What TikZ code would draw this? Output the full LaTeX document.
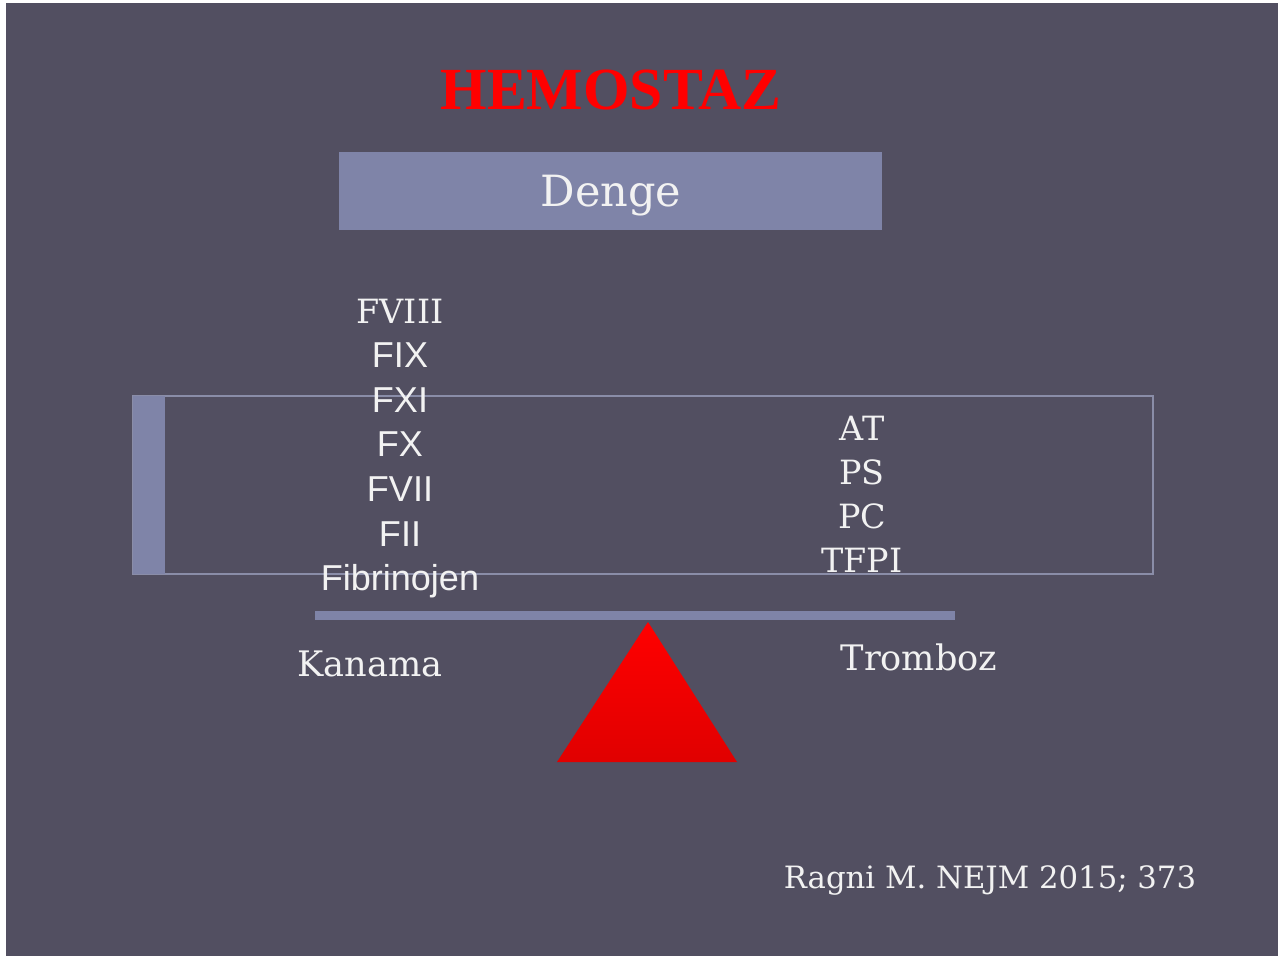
\documentclass[tikz,border=0pt]{standalone}
\usepackage{fontspec}
\setmainfont{DejaVu Serif}
\newfontfamily\titlefont{Liberation Serif}
\newfontfamily\armfont{Liberation Sans}
\usetikzlibrary{positioning}
\definecolor{slide}{HTML}{524F61}
\definecolor{bar}{HTML}{7F84A8}
\definecolor{frame}{HTML}{8A8DA8}
\definecolor{ink}{HTML}{F2F2F2}
\tikzset{
    x=0.02cm,
    y=-0.02cm,
    title/.style = {
        anchor=base,
        inner sep=0pt,
        text=red,
        font=\titlefont\bfseries\fontsize{34}{34}\selectfont
    },
    serif/.style = {
        anchor=base,
        inner sep=0pt,
        text=ink,
        font=\fontsize{19}{19}\selectfont
    },
    sans/.style = {
        anchor=base,
        inner sep=0pt,
        text=ink,
        font=\armfont\fontsize{20.5}{20.5}\selectfont
    },
}

\begin{document}
\begin{tikzpicture}
            \useasboundingbox (0,0) rectangle (1278,956);
            \fill[white] (0,0) rectangle (1278,956);
            \fill[slide] (6,3) rectangle (1278,956);

            \node[title] (hemostaz) at (611,110) {HEMOSTAZ};

            \fill[bar] (339,152) rectangle (882,230);
            \node[serif, font=\fontsize{24.5}{24.5}\selectfont] (denge) at (611,207) {Denge};

            \draw[frame, line width=0.9pt] (133,396) rectangle (1153,574);
            \fill[bar] (133,396) rectangle (165,574);

            \node[serif] (f8) at (400,323) {FVIII};
            \foreach \lbl [count=\i] in {FIX,FXI,FX,FVII,FII,Fibrinojen}
                \node[sans] (left\i) at (400,323+44.6*\i) {\lbl};

            \foreach \lbl [count=\i] in {AT,PS,PC,TFPI}
                \node[serif] (right\i) at (862,396+44*\i) {\lbl};

            \fill[bar] (315,611) rectangle (955,620);
            \coordinate (apex) at (648,622);
            \shade[top color=red, bottom color=red!88!black]
                (apex) -- (737,762) -- (557,762) -- cycle;

            \node[serif, font=\fontsize{20}{20}\selectfont] (kanama) at (370,676) {Kanama};
            \node[serif, font=\fontsize{20}{20}\selectfont] (tromboz) at (919,670) {Tromboz};

            \node[serif, font=\fontsize{17.5}{17.5}\selectfont] (ref) at (990,888) {Ragni M. NEJM 2015; 373};
        \end{tikzpicture}
\end{document}
